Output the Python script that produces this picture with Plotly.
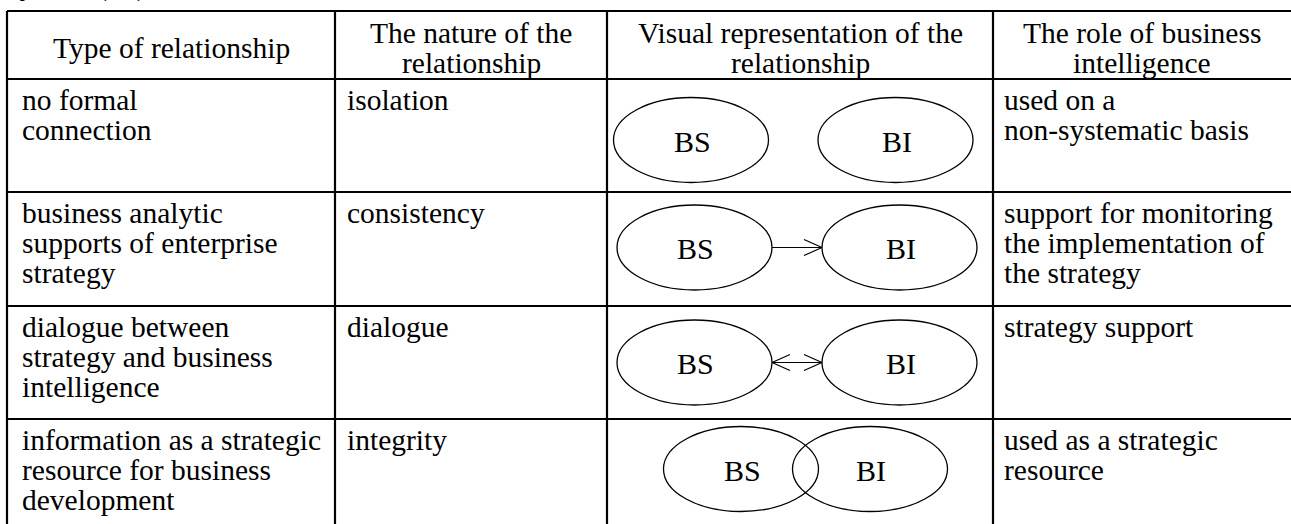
import plotly.graph_objects as go

W, H = 1291, 524

# ---- data ----
headers = ["Type of relationship",
           "The nature of the<br>relationship",
           "Visual representation of the<br>relationship",
           "The role of business<br>intelligence"]
types = ["no formal<br>connection",
         "business analytic<br>supports of enterprise<br>strategy",
         "dialogue between<br>strategy and business<br>intelligence",
         "information as a strategic<br>resource for business<br>development"]
natures = ["isolation", "consistency", "dialogue", "integrity"]
roles = ["used on a<br>non-systematic basis",
         "support for monitoring<br>the implementation of<br>the strategy",
         "strategy support",
         "used as a strategic<br>resource"]
links = ["none", "arrow", "double", "overlap"]
node_labels = ["BS", "BI"]
caption = "system (BI)."

# ---- layout geometry (screen pixels) ----
col_x = [7, 335, 607, 993, 1300]
row_y = [11, 79, 192, 306, 419, 533]
FONT = "Liberation Serif, Times New Roman, serif"
BODY = 29.5
NODE = 30
LSP = 30

shapes, ann = [], []
LW = 2.2


def text_lines(x, y0, txt, anchor="left", size=BODY):
    for k, line in enumerate(txt.split("<br>")):
        ann.append(dict(x=x, y=y0 + k * LSP, text=line, showarrow=False,
                        xanchor=anchor, yanchor="middle",
                        font=dict(family=FONT, size=size, color="black")))


# grid
for x in col_x:
    shapes.append(dict(type="line", x0=x, x1=x, y0=row_y[0], y1=row_y[-1],
                       line=dict(color="black", width=LW)))
for y in row_y:
    shapes.append(dict(type="line", x0=col_x[0], x1=col_x[-1], y0=y, y1=y,
                       line=dict(color="black", width=LW)))

# headers
for i, h in enumerate(headers):
    n = len(h.split("<br>"))
    cy = (row_y[0] + row_y[1]) / 2 + 3
    text_lines((col_x[i] + col_x[i + 1] - (10 if i == 3 else 0)) / 2,
               cy - (n - 1) * LSP / 2, h, anchor="center")

# body text
pads = [13, 10, 0, 9]
for r in range(4):
    top = row_y[r + 1] + 21
    for c, txt in ((0, types[r]), (1, natures[r]), (3, roles[r])):
        text_lines(col_x[c] + pads[c], top, txt)

# visual representation
EW, EH = 155, 85
for r, kind in enumerate(links):
    if kind == "overlap":
        centers, cy = [741, 870], 469
    elif kind == "none":
        centers, cy = [691, 895.5], 140
    else:
        centers, cy = [694.5, 899.5], (247.5 if kind == "arrow" else 362.5)
    for cx, lab in zip(centers, node_labels):
        shapes.append(dict(type="circle", x0=cx - EW / 2, x1=cx + EW / 2,
                           y0=cy - EH / 2, y1=cy + EH / 2,
                           line=dict(color="black", width=1.3)))
        ann.append(dict(x=cx + 1, y=cy + 1, text=lab, showarrow=False,
                        xanchor="center", yanchor="middle",
                        font=dict(family=FONT, size=NODE, color="black")))
    if kind in ("arrow", "double"):
        xa = centers[0] + EW / 2
        xb = centers[1] - EW / 2
        shapes.append(dict(type="line", x0=xa, x1=xb, y0=cy, y1=cy,
                           line=dict(color="black", width=1.2)))
        heads = [(xb, -1)] + ([(xa, 1)] if kind == "double" else [])
        for hx, d in heads:
            for dy in (-8, 8):
                shapes.append(dict(type="line", x0=hx, y0=cy, x1=hx + d * 18, y1=cy + dy,
                                   line=dict(color="black", width=1.2)))

# clipped caption line above the table (only its descenders show, as in the source)
ann.append(dict(x=6, y=1 + 15 / H, xref="x", yref="paper", text=caption, showarrow=False,
                xanchor="left", yanchor="middle",
                font=dict(family=FONT, size=BODY, color="black")))

fig = go.Figure()
fig.update_layout(
    width=W, height=H, margin=dict(l=0, r=0, t=0, b=0),
    paper_bgcolor="white", plot_bgcolor="white",
    xaxis=dict(range=[0, W], visible=False, fixedrange=True),
    yaxis=dict(range=[H, 0], visible=False, fixedrange=True),
    shapes=shapes, annotations=ann, showlegend=False,
)
fig.write_html("out.html", config={"displayModeBar": False},
               post_script="document.body.style.margin='0';document.body.style.overflow='hidden';")
